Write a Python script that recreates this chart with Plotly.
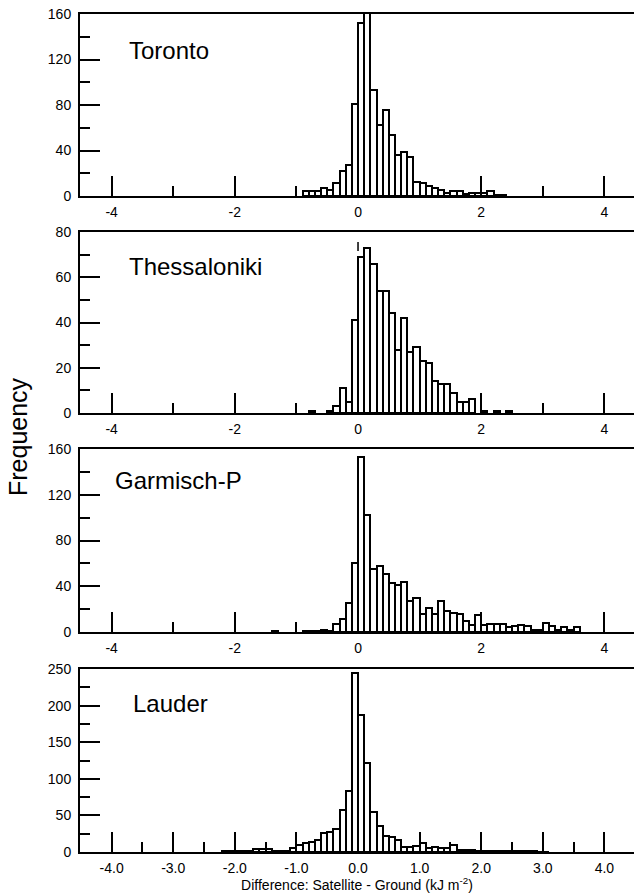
import plotly.graph_objects as go

# ---------------- data (bin width 0.1, counts) ----------------
bin_width = 0.1

stations = ["Toronto", "Thessaloniki", "Garmisch-P", "Lauder"]

toronto_first_bin = -0.9
toronto_counts = [4, 4, 4, 7, 5, 11, 22, 27, 81, 152, 175, 93, 62, 76, 54, 36, 39,
                  34, 12, 11, 9, 7, 5, 3, 4, 4, 2, 3, 3, 3, 4, 1, 1]

thess_first_bin = -0.8
thess_counts = [1, 0, 0, 1, 3, 11, 5, 41, 69, 73, 66, 54, 54, 44, 28, 42, 27, 29,
                23, 22, 14, 13, 13, 9, 5, 5, 6, 0, 1, 0, 1, 0, 1]

garmisch_first_bin = -1.4
garmisch_counts = [1, 0, 0, 0, 0, 1, 1, 1, 2, 1, 7, 11, 25, 60, 153, 102, 55, 58,
                   51, 43, 41, 44, 27, 30, 16, 21, 16, 27, 18, 17, 16, 10, 6, 15,
                   6, 7, 7, 7, 4, 5, 6, 5, 2, 2, 8, 5, 2, 4, 2, 4]

lauder_first_bin = -2.2
lauder_counts = [1, 1, 1, 1, 2, 4, 4, 4, 2, 1, 2, 5.5, 9.6, 12, 14, 17, 25.5, 28,
                 31, 58, 83, 244, 187, 121, 54, 35, 22, 21, 16, 6.5, 6.5, 8.7, 12,
                 5.5, 6.4, 5.5, 5.5, 9.6, 3, 3, 3, 2, 2, 1, 1, 1, 1, 1, 1, 1, 1,
                 0.5, 0.5]

y_max = [160, 80, 160, 250]
y_major = [40, 20, 40, 50]

top_xticks = [-4, -2, 0, 2, 4]
top_xticklabels = ["-4", "-2", "0", "2", "4"]
top_xminor = [-3, -1, 1, 3]

bottom_xticks = [-4, -3, -2, -1, 0, 1, 2, 3, 4]
bottom_xticklabels = ["-4.0", "-3.0", "-2.0", "-1.0", "0.0", "1.0", "2.0", "3.0", "4.0"]
bottom_xminor = [-3.5, -2.5, -1.5, -0.5, 0.5, 1.5, 2.5, 3.5]

x_title = "Difference: Satellite - Ground (kJ m<sup>-2</sup>)"
y_title = "Frequency"

# ---------------- layout geometry ----------------
W, H = 634, 893
ml, mr, mt, mb = 80, 0, 14, 41
ph = H - mt - mb
panel_px = [(14, 196), (232, 413), (449, 632), (669, 852)]
domains = [[(852 - b) / ph, (852 - t) / ph] for t, b in panel_px]
x_range = [-4.513, 4.48]

FONT = "Liberation Sans, Arial, Helvetica, sans-serif"

series = [
    (toronto_first_bin, toronto_counts),
    (thess_first_bin, thess_counts),
    (garmisch_first_bin, garmisch_counts),
    (lauder_first_bin, lauder_counts),
]

fig = go.Figure()
layout = dict(
    width=W, height=H,
    margin=dict(l=ml, r=mr, t=mt, b=mb),
    paper_bgcolor="white", plot_bgcolor="white",
    showlegend=False,
    font=dict(family=FONT, size=14, color="black"),
    bargap=0,
)

for i, (first, counts) in enumerate(series):
    n = i + 1
    suffix = str(n) if n > 1 else ""
    xs, ys = [], []
    for j, c in enumerate(counts):
        if c > 0:
            xs.append(first + bin_width * (j + 0.5))
            ys.append(c)
    fig.add_trace(go.Bar(
        x=xs, y=ys, width=bin_width,
        marker=dict(color="white", line=dict(color="black", width=2)),
        xaxis="x" + suffix, yaxis="y" + suffix,
        hoverinfo="x+y",
    ))
    last = (i == 3)
    xa = dict(
        domain=[0, 1], anchor="y" + suffix,
        range=x_range, showline=True, linewidth=2, linecolor="black",
        mirror=True, showgrid=False, zeroline=False,
        ticks="inside", ticklen=20, tickwidth=2, tickcolor="black",
        tickvals=bottom_xticks if last else top_xticks,
        ticktext=bottom_xticklabels if last else top_xticklabels,
        minor=dict(tickvals=bottom_xminor if last else top_xminor,
                   ticks="inside", ticklen=10, tickwidth=2,
                   tickcolor="black", showgrid=False),
        tickfont=dict(family=FONT, size=14, color="black"),
        ticklabelstandoff=2,
        layer="below traces",
    )
    ya = dict(
        domain=domains[i], anchor="x" + suffix,
        range=[0, y_max[i]], showline=True, linewidth=2, linecolor="black",
        showgrid=False, zeroline=False,
        ticks="inside", ticklen=20, tickwidth=2, tickcolor="black",
        tick0=0, dtick=y_major[i],
        minor=dict(tick0=y_major[i] / 2, dtick=y_major[i],
                   ticks="inside", ticklen=10, tickwidth=2,
                   tickcolor="black", showgrid=False),
        tickfont=dict(family=FONT, size=14, color="black"),
        ticklabelstandoff=4,
        layer="below traces",
    )
    if last:
        xa["title"] = dict(text=x_title, font=dict(family=FONT, size=14, color="black"),
                           standoff=0)
    layout["xaxis" + suffix] = xa
    layout["yaxis" + suffix] = ya

fig.update_layout(**layout)

# station labels
label_pos = [(127, 51), (127, 266), (113, 480), (131, 703)]
for name, (px, py) in zip(stations, label_pos):
    fig.add_annotation(
        text=name, xref="paper", yref="paper",
        x=(px - ml) / (W - ml - mr), y=(852 - py) / ph,
        xanchor="left", yanchor="middle", showarrow=False,
        font=dict(family=FONT, size=24, color="black"),
    )

# y title
fig.add_annotation(
    text=y_title, xref="paper", yref="paper",
    x=(18 - ml) / (W - ml - mr), y=(852 - 437) / ph,
    xanchor="center", yanchor="middle", textangle=-90, showarrow=False,
    font=dict(family=FONT, size=25, color="black"),
)

# dashed reference line at zero in the Thessaloniki panel
fig.add_shape(type="line", xref="x2", yref="y2", x0=0, x1=0, y0=0, y1=79,
              line=dict(color="black", width=1.5, dash="dash"), layer="above")

fig.write_html("out.html")
